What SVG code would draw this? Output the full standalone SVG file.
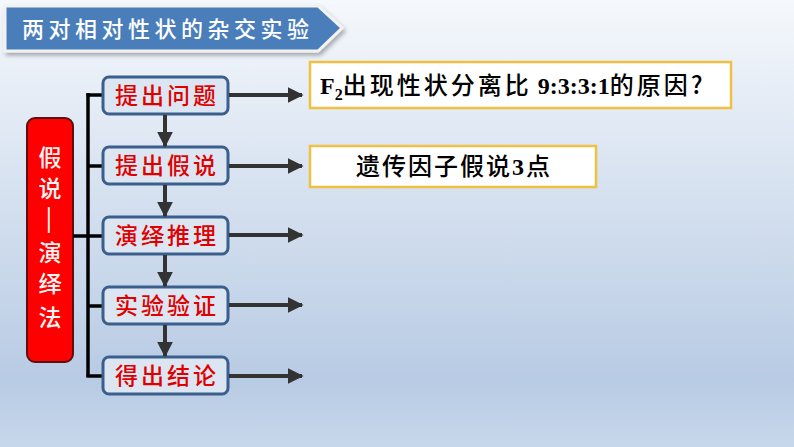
<svg xmlns="http://www.w3.org/2000/svg" width="794" height="447" viewBox="0 0 794 447">
<defs>
<linearGradient id="bg" x1="0" y1="0" x2="0" y2="1">
<stop offset="0" stop-color="#f5f8fc"/>
<stop offset="0.85" stop-color="#b8cbe4"/>
<stop offset="1" stop-color="#c7d7eb"/>
</linearGradient>
<filter id="sh" x="-10%" y="-20%" width="130%" height="160%">
<feDropShadow dx="2" dy="3" stdDeviation="2" flood-color="#000" flood-opacity="0.3"/>
</filter>
<marker id="ah" viewBox="0 0 10 10" refX="9" refY="5" markerWidth="16" markerHeight="16" markerUnits="userSpaceOnUse" orient="auto">
<path d="M0,0 L10,5 L0,10 Z" fill="#333"/>
</marker>
</defs>
<style>
.cjk{font-family:"Noto Sans CJK SC","Noto Sans",sans-serif;}
.step rect{fill:#dce6f2;stroke:#3a5f8c;stroke-width:3;}
.step text{fill:#e00000;font-size:23px;letter-spacing:3px;font-weight:500;text-anchor:middle;}
.ybox{fill:#ffffff;stroke:#f0c040;stroke-width:2.5;}
.conn line{stroke:#333;stroke-width:4;}
.br line{stroke:#000;stroke-width:3.5;}
</style>
<rect width="794" height="447" fill="url(#bg)"/>

<g id="title">
<path d="M5,6 L318,6 L342,28 L318,51 L5,51 Z" fill="#4a7ebb" stroke="#f2f2f2" stroke-width="3" filter="url(#sh)"/>
<text class="cjk" x="22" y="37" font-size="22" fill="#ffffff" letter-spacing="4.5" font-weight="500">两对相对性状的杂交实验</text>
</g>

<g id="method">
<rect x="27" y="118" width="46" height="244" rx="8" fill="#ff0000" stroke="#5a1010" stroke-width="2"/>
<g class="cjk" font-size="23" fill="#f4f4f4" text-anchor="middle" font-weight="500">
<text x="50" y="166">假</text>
<text x="50" y="197">说</text>
<text x="50" y="261">演</text>
<text x="50" y="292">绎</text>
<text x="50" y="326">法</text>
</g>
<text x="0" y="0" font-family="Liberation Sans, sans-serif" font-size="26" fill="#f4f4f4" text-anchor="middle" transform="translate(50,220) rotate(90) translate(0,8)">—</text>
</g>

<g id="bracket" class="br">
<line x1="88" y1="93" x2="88" y2="377"/>
<line x1="86.5" y1="95" x2="105" y2="95"/>
<line x1="88" y1="166" x2="105" y2="166"/>
<line x1="73" y1="236" x2="105" y2="236"/>
<line x1="88" y1="306" x2="105" y2="306"/>
<line x1="86.5" y1="376" x2="105" y2="376"/>
</g>

<g id="step1" class="step"><rect x="103" y="77" width="125" height="37" rx="6"/><text class="cjk" x="167" y="104">提出问题</text></g>
<g id="step2" class="step"><rect x="103" y="147" width="125" height="37" rx="6"/><text class="cjk" x="167" y="174">提出假说</text></g>
<g id="step3" class="step"><rect x="103" y="217" width="125" height="37" rx="6"/><text class="cjk" x="167" y="244">演绎推理</text></g>
<g id="step4" class="step"><rect x="103" y="287" width="125" height="37" rx="6"/><text class="cjk" x="167" y="314">实验验证</text></g>
<g id="step5" class="step"><rect x="103" y="357" width="125" height="37" rx="6"/><text class="cjk" x="167" y="384">得出结论</text></g>

<g id="connectors" class="conn">
<line x1="165" y1="115" x2="165" y2="146" marker-end="url(#ah)"/>
<line x1="165" y1="185" x2="165" y2="216" marker-end="url(#ah)"/>
<line x1="165" y1="255" x2="165" y2="286" marker-end="url(#ah)"/>
<line x1="165" y1="325" x2="165" y2="356" marker-end="url(#ah)"/>
<line x1="229" y1="95" x2="302" y2="95" marker-end="url(#ah)"/>
<line x1="229" y1="166" x2="302" y2="166" marker-end="url(#ah)"/>
<line x1="229" y1="235" x2="302" y2="235" marker-end="url(#ah)"/>
<line x1="229" y1="305" x2="302" y2="305" marker-end="url(#ah)"/>
<line x1="229" y1="376" x2="302" y2="376" marker-end="url(#ah)"/>
</g>

<g id="question">
<rect class="ybox" x="310" y="62" width="421" height="46"/>
<text x="320" y="94" font-size="24" fill="#000"><tspan font-family="Liberation Serif, serif" font-weight="bold">F</tspan><tspan font-family="Liberation Serif, serif" font-weight="bold" font-size="16" dy="6">2</tspan><tspan class="cjk" dy="-6" font-weight="500" letter-spacing="3">出现性状分离比</tspan><tspan font-family="Liberation Serif, serif" font-weight="bold"> 9:3:3:1</tspan><tspan class="cjk" font-weight="500" letter-spacing="3">的原因?</tspan></text>
</g>

<g id="hypothesis">
<rect class="ybox" x="310" y="146" width="286" height="41"/>
<text x="454" y="175" font-size="24" fill="#000" text-anchor="middle" letter-spacing="2"><tspan class="cjk" font-weight="500">遗传因子假说</tspan><tspan font-family="Liberation Serif, serif" font-weight="bold">3</tspan><tspan class="cjk" font-weight="500">点</tspan></text>
</g>
</svg>
